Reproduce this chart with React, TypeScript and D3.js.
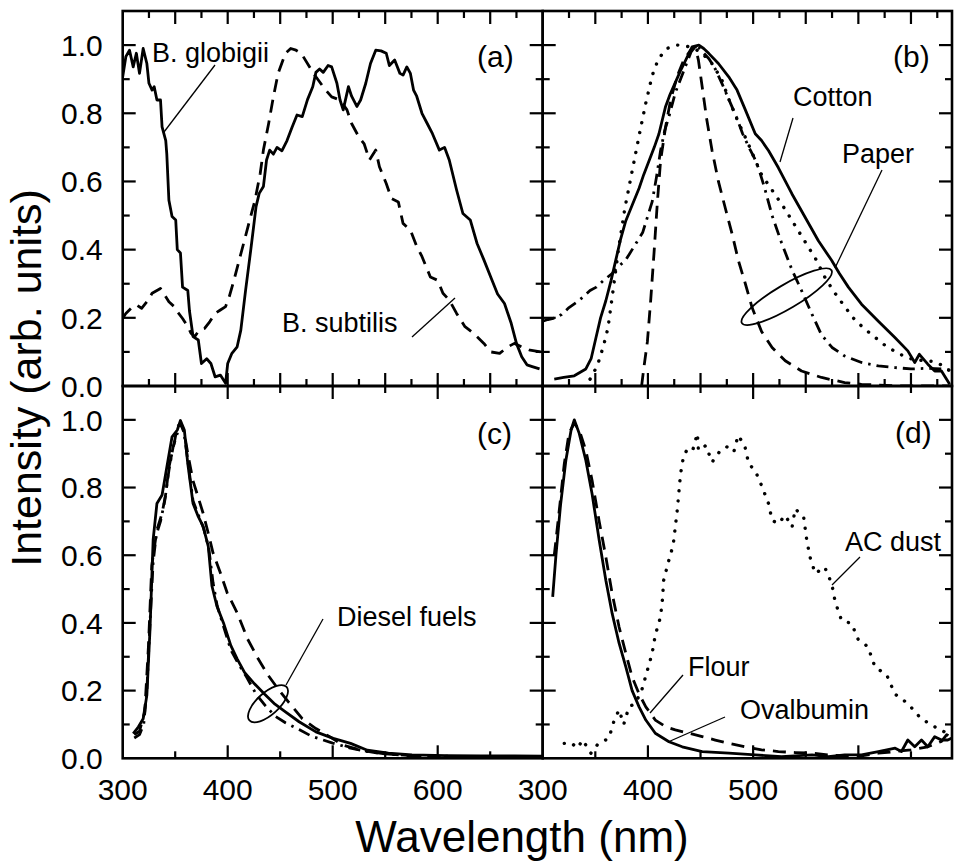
import React from "react";
import * as d3 from "d3";

type P = [number, number];

// ---------- tick labels ----------
const xTickLabels = [300, 400, 500, 600];
const yTickLabels = [0, 0.2, 0.4, 0.6, 0.8, 1.0];

// ---------- panel (a) ----------
const globigii: P[] = [[300,.907],[303,.966],[306.5,.985],[310,.936],[313,.976],[316,.917],[319.5,.99],[323,.946],[325,.888],[328,.868],[330,.878],[332.6,.839],[336,.839],[337.5,.76],[341,.72],[342,.68],[344,.545],[347,.497],[350.5,.487],[352,.40],[355,.39],[357,.29],[362,.28],[363.6,.22],[367,.145],[372,.135],[375,.066],[380,.08],[384,.066],[388,.027],[393,.032],[398,.008],[400,.066],[404,.096],[409,.115],[412.5,.164],[417,.28],[422,.40],[427,.526],[430,.565],[434,.585],[437,.663],[440,.692],[443.5,.68],[447,.70],[451.6,.69],[456.5,.72],[461.4,.76],[466,.795],[471,.79],[476,.84],[481,.878],[484,.92],[487.5,.93],[491,.92],[495.6,.94],[499,.936],[504,.888],[507,.839],[510,.81],[515,.878],[518,.85],[523,.82],[526.6,.839],[531.5,.888],[536,.946],[541,.985],[546,.983],[551,.976],[554,.94],[559,.956],[564,.917],[567,.912],[570.6,.936],[574,.917],[577,.868],[580,.85],[585,.80],[590,.77],[595,.74],[601.6,.692],[606.5,.70],[611,.663],[618,.575],[624,.506],[631,.487],[637.5,.418],[644,.37],[650.5,.32],[657,.27],[663.6,.242],[670,.184],[675,.125],[680,.086],[685,.062],[690,.057],[697,.05]];
const subtilis: P[] = [[300,.198],[303,.213],[308,.228],[313,.238],[318,.228],[323,.247],[328,.272],[332.6,.28],[336,.286],[339,.272],[344,.247],[349,.233],[352,.218],[357,.198],[362,.174],[365,.155],[368.5,.145],[373,.164],[378,.169],[383,.189],[388,.213],[393,.223],[398,.233],[401.5,.262],[406,.311],[411,.37],[416,.428],[421,.487],[426,.545],[431,.624],[434,.692],[439,.77],[443.5,.848],[448,.917],[455,.976],[460,.99],[465,.985],[470,.976],[478,.936],[484,.907],[492,.873],[499,.848],[507,.839],[513.6,.81],[518,.77],[525,.73],[530,.71],[535,.663],[541,.692],[544.5,.643],[551,.594],[556,.55],[562.5,.54],[567,.477],[574,.457],[580,.41],[585,.38],[593,.32],[600,.31],[605,.272],[611,.252],[618,.213],[626,.174],[634,.155],[644,.125],[650.5,.10],[659,.096],[667,.115],[673,.125],[680,.115],[688,.105],[698,.1]];

// ---------- panel (b) ----------
const cotton: P[] = [[311,.02],[320,.025],[330,.03],[341,.05],[346,.08],[350.5,.14],[355,.2],[360,.25],[365,.31],[369.5,.37],[374,.43],[379,.485],[385,.53],[391.6,.58],[396,.62],[401,.66],[406,.70],[410.5,.74],[416.8,.82],[421,.855],[426,.89],[431,.925],[435.8,.955],[442,.995],[448.4,1.0],[453,.99],[458,.975],[467,.946],[476.8,.907],[484.7,.868],[492.6,.81],[502,.74],[508,.72],[514.7,.69],[524,.64],[536.8,.564],[549.4,.495],[562,.426],[574.7,.368],[582,.33],[590.5,.29],[603,.24],[619,.19],[634.7,.142],[647,.103],[653.6,.069],[658,.093],[666,.064],[672.6,.044],[679,.044],[686.8,.005]];
const paperDash: P[] = [[394,0],[396,.05],[399.5,.13],[402.6,.25],[405.8,.39],[409,.54],[412,.66],[416.8,.76],[421.6,.84],[428,.91],[434,.956],[440.5,.985],[445,.995],[448,.956],[451.6,.877],[456,.78],[461,.69],[467,.60],[473.7,.52],[480,.446],[486,.368],[492.6,.30],[499,.23],[508,.16],[518,.113],[530.5,.074],[546,.044],[565,.025],[587,.01],[603,.005],[640,0],[689,0]];
const paperDashDot: P[] = [[300,.19],[305,.195],[312,.20],[318,.21],[325,.23],[332,.245],[338,.26],[345,.28],[351,.29],[358,.31],[366,.33],[372,.35],[379,.37],[387,.41],[395,.45],[400,.50],[404,.54],[408,.61],[412,.69],[416,.75],[420,.79],[426,.86],[431,.90],[436,.94],[441,.98],[446,1.0],[452,.98],[458,.96],[464,.93],[470,.89],[477,.84],[484,.79],[490,.74],[496,.70],[501,.67],[505,.64],[511,.58],[518,.50],[527,.42],[537,.34],[546,.28],[556,.21],[565,.15],[575,.113],[587,.088],[603,.069],[619,.059],[635,.054],[650,.05],[666,.052],[682,.05],[689,.045]];
const paperDot: P[] = [[345,.02],[352,.06],[358,.12],[362,.17],[366,.26],[372,.40],[378,.52],[385,.63],[392,.74],[398,.83],[404,.91],[410,.96],[418,.99],[428,1.0],[440,.995],[450,.98],[460,.95],[470,.90],[477,.84],[485,.78],[494,.72],[501,.67],[508,.62],[519,.57],[530,.52],[540,.47],[550,.42],[560,.37],[568,.32],[576,.28],[583,.25],[595,.20],[605,.17],[613,.15],[625,.12],[638,.095],[650,.08],[660,.075],[672,.072],[680,.06],[689,.04]];

// ---------- panel (c) ----------
const diesel1: P[] = [[310,.073],[315,.093],[319.5,.117],[323,.186],[326,.38],[329,.646],[332.6,.753],[337.5,.778],[342,.86],[347,.95],[352,.97],[355,.998],[358.7,.97],[362,.87],[367,.753],[372,.714],[376.6,.685],[381.5,.626],[385,.509],[389.7,.45],[396,.40],[403,.333],[409,.294],[416,.254],[425.5,.22],[435,.19],[445,.16],[455,.137],[468,.108],[484,.078],[500.5,.059],[517,.044],[533,.024],[553,.015],[575.5,.01],[608,.008],[641,.007],[673,.007],[700,.006]];
const diesel2: P[] = [[311,.07],[316,.08],[321,.137],[324.5,.33],[327.7,.57],[332.6,.675],[337.5,.724],[341,.78],[344,.86],[349,.93],[352,.98],[355,.99],[358.7,.96],[362,.90],[367,.82],[372,.77],[376.6,.724],[381.5,.665],[386,.607],[393,.548],[399.5,.489],[409,.43],[419,.352],[429,.294],[438.6,.245],[448,.205],[458,.166],[471,.117],[484,.088],[497,.064],[510,.039],[526.6,.024],[543,.015],[575.5,.007],[608,.004],[673,.002],[700,.002]];
const diesel3: P[] = [[311,.06],[316,.07],[320,.10],[323,.2],[326,.40],[329,.58],[332,.66],[336,.70],[340,.76],[344,.85],[348,.92],[352,.96],[355,.99],[358,.97],[362,.88],[367,.76],[372,.72],[377,.68],[382,.62],[386,.52],[390,.45],[396,.39],[403,.32],[410,.28],[418,.24],[427,.19],[436,.155],[445,.125],[455,.105],[468,.085],[480,.065],[500,.045],[517,.03],[533,.02],[553,.012],[575,.008],[610,.006],[650,.005],[700,.005]];

// ---------- panel (d) ----------
const ovalbumin: P[] = [[309.5,.477],[312.6,.60],[317,.75],[322,.88],[327,.97],[330,1.0],[334.7,.96],[341,.88],[347,.78],[353.7,.644],[360,.526],[366,.428],[372.6,.34],[379,.27],[385,.20],[391.6,.152],[398,.113],[407,.074],[420,.049],[432.6,.034],[451.6,.02],[477,.015],[502,.01],[527,.005],[556,.01],[571.5,.005],[587,.01],[603,.01],[619,.02],[635,.03],[641,.02],[647,.054],[653.6,.034],[660,.054],[666,.034],[672.6,.064],[679,.054],[685,.054],[689,.06]];
const flour: P[] = [[311,.60],[316,.74],[320.5,.87],[325,.96],[330,.99],[334.7,.97],[341,.91],[347,.82],[353.7,.70],[360,.595],[366,.487],[372.6,.388],[379,.31],[385,.24],[391.6,.19],[398,.152],[407,.113],[417,.093],[426,.084],[439,.074],[451.6,.064],[464,.054],[477,.044],[492.6,.034],[508,.025],[524,.02],[540,.017],[556,.015],[571.5,.01],[587,.007],[603,.007],[619,.015],[635,.02],[650,.025],[666,.034],[679,.05],[684,.07],[689,.06]];
const acDust: P[] = [[320.5,.044],[327,.046],[333,.03],[338,.054],[345.8,.015],[352,.04],[363,.06],[368,.113],[372.6,.143],[377,.10],[382,.152],[388,.162],[394,.2],[399.5,.26],[404,.31],[407,.364],[412,.418],[413.7,.467],[415,.526],[419,.575],[424,.63],[426,.683],[428,.737],[431,.84],[434,.895],[439,.92],[443,.915],[447,.96],[448,.91],[455,.924],[461,.875],[469,.91],[475,.92],[481.6,.905],[485.7,.954],[492,.924],[495.8,.87],[502,.85],[508,.806],[514.7,.752],[518,.703],[524,.693],[530.5,.718],[537,.683],[540,.737],[548,.713],[551,.644],[554,.595],[559,.546],[568,.565],[574.7,.516],[578,.462],[584,.408],[593.6,.398],[600,.35],[609,.33],[615.8,.27],[627,.246],[634.7,.19],[647,.162],[658,.123],[669,.098],[679,.084],[688,.064]];

const FONT = "'Liberation Sans', Arial, Helvetica, sans-serif";

const dashStyles: Record<string, string | undefined> = {
  solid: undefined,
  dash: "13,8",
  dot: "0.1,10",
  dashdot: "12,6,2.5,6",
};

type Series = { data: P[]; style: string };

export default function App() {
  const xL = d3.scaleLinear().domain([300, 700]).range([122.7, 542.7]);
  const xR = d3.scaleLinear().domain([300, 689]).range([542.7, 952]);
  const yT = d3.scaleLinear().domain([0, 1.1]).range([386, 11]);
  const yB = d3.scaleLinear().domain([0, 1.1]).range([758.3, 386]);

  const panels = [
    { id: "a", x: xL, y: yT, top: true, left: true, series: [ { data: globigii, style: "solid" }, { data: subtilis, style: "dash" } ] as Series[] },
    { id: "b", x: xR, y: yT, top: true, left: false, series: [ { data: paperDash, style: "dash" }, { data: paperDashDot, style: "dashdot" }, { data: paperDot, style: "dot" }, { data: cotton, style: "solid" } ] as Series[] },
    { id: "c", x: xL, y: yB, top: false, left: true, series: [ { data: diesel2, style: "dash" }, { data: diesel3, style: "dashdot" }, { data: diesel1, style: "solid" } ] as Series[] },
    { id: "d", x: xR, y: yB, top: false, left: false, series: [ { data: acDust, style: "dot" }, { data: flour, style: "dash" }, { data: ovalbumin, style: "solid" } ] as Series[] },
  ];

  const MAJ = 13, MIN = 7;

  return (
    <svg width={955} height={864} style={{ position: "absolute", left: 0, top: 0, background: "#fff" }} fontFamily={FONT}>
      <defs>
        {panels.map((p) => {
          const [x0, x1] = p.x.range();
          const [y0, y1] = p.y.range();
          return (
            <clipPath id={"clip-" + p.id} key={p.id}>
              <rect x={x0} y={y1} width={x1 - x0} height={y0 - y1} />
            </clipPath>
          );
        })}
      </defs>
      {panels.map((p) => {
        const [x0, x1] = p.x.range();
        const [yb, yt] = p.y.range();
        const dom = p.x.domain();
        const line = d3.line<P>().x((d) => p.x(d[0])).y((d) => p.y(d[1]));
        const xMajor = p.top ? d3.range(350, dom[1] + 0.01, 50) : d3.range(400, dom[1] + 0.01, 100);
        const xMinor = p.top ? d3.range(325, dom[1] + 0.01, 50) : d3.range(350, dom[1] + 0.01, 100);
        const yMajor = d3.range(0.2, 1.01, 0.2);
        const yMinor = d3.range(0.1, 1.01, 0.2);
        const ticks: JSX.Element[] = [];
        xMajor.filter((v) => v < dom[1] - 1).forEach((v, i) => {
          ticks.push(<line key={"xb" + i} x1={p.x(v)} x2={p.x(v)} y1={yb} y2={yb - MAJ} />);
          ticks.push(<line key={"xt" + i} x1={p.x(v)} x2={p.x(v)} y1={yt} y2={yt + MAJ} />);
        });
        xMinor.filter((v) => v < dom[1] - 1).forEach((v, i) => {
          ticks.push(<line key={"xbm" + i} x1={p.x(v)} x2={p.x(v)} y1={yb} y2={yb - MIN} />);
          ticks.push(<line key={"xtm" + i} x1={p.x(v)} x2={p.x(v)} y1={yt} y2={yt + MIN} />);
        });
        yMajor.forEach((v, i) => {
          ticks.push(<line key={"yl" + i} x1={x0} x2={x0 + MAJ} y1={p.y(v)} y2={p.y(v)} />);
          ticks.push(<line key={"yr" + i} x1={x1} x2={x1 - MAJ} y1={p.y(v)} y2={p.y(v)} />);
        });
        yMinor.forEach((v, i) => {
          ticks.push(<line key={"ylm" + i} x1={x0} x2={x0 + MIN} y1={p.y(v)} y2={p.y(v)} />);
          ticks.push(<line key={"yrm" + i} x1={x1} x2={x1 - MIN} y1={p.y(v)} y2={p.y(v)} />);
        });
        return (
          <g key={p.id}>
            <g clipPath={`url(#clip-${p.id})`}>
              {p.series.map((s, i) => (
                <path
                  key={i}
                  d={line(s.data) || ""}
                  fill="none"
                  stroke="#000"
                  strokeWidth={s.style === "dot" ? 3.4 : 2.8}
                  strokeDasharray={dashStyles[s.style]}
                  strokeLinecap={s.style === "dot" ? "round" : "butt"}
                  strokeLinejoin="round"
                />
              ))}
            </g>
            <g stroke="#000" strokeWidth={2.2}>{ticks}</g>
            <rect x={x0} y={yt} width={x1 - x0} height={yb - yt} fill="none" stroke="#000" strokeWidth={2.6} />
            {p.left &&
              yTickLabels.map((v) => (
                <text key={"yl" + v} x={x0 - 20} y={p.y(v)} dy="0.36em" textAnchor="end" fontSize={30}>
                  {v.toFixed(1)}
                </text>
              ))}
            {!p.top &&
              xTickLabels.map((v) => (
                <text key={"xl" + v} x={p.x(v)} y={800} textAnchor="middle" fontSize={30}>
                  {v}
                </text>
              ))}
          </g>
        );
      })}

      {/* panel tags */}
      <g fontSize={30}>
        <text x={477} y={67}>(a)</text>
        <text x={893} y={67}>(b)</text>
        <text x={477} y={444}>(c)</text>
        <text x={895} y={443}>(d)</text>
      </g>

      {/* annotations */}
      <g fontSize={27}>
        <text x={152} y={62}>B. globigii</text>
        <text x={282} y={332}>B. subtilis</text>
        <text x={793} y={106}>Cotton</text>
        <text x={842} y={163}>Paper</text>
        <text x={337} y={626}>Diesel fuels</text>
        <text x={845} y={551}>AC dust</text>
        <text x={688} y={676}>Flour</text>
        <text x={740} y={719}>Ovalbumin</text>
      </g>
      <g stroke="#000" strokeWidth={1.3} fill="none">
        <line x1={215} y1={65} x2={164} y2={132} />
        <line x1={412} y1={337} x2={455} y2={298} />
        <line x1={793} y1={118} x2={780} y2={162} />
        <line x1={882} y1={170} x2={835} y2={268} />
        <ellipse cx={786.7} cy={296.7} rx={52} ry={12} transform="rotate(-30.5 786.7 296.7)" strokeWidth={1.8} />
        <line x1={323} y1={619} x2={286} y2={685} />
        <ellipse cx={268} cy={703.7} rx={25} ry={11} transform="rotate(-42 268 703.7)" strokeWidth={1.8} />
        <line x1={860} y1={557} x2={832} y2={585} />
        <line x1={683} y1={675} x2={650} y2={713} />
        <line x1={725} y1={717} x2={668} y2={742} />
      </g>

      {/* axis titles */}
      <text x={522} y={852} textAnchor="middle" fontSize={44}>Wavelength (nm)</text>
      <text transform="translate(41,378) rotate(-90)" textAnchor="middle" fontSize={43}>Intensity (arb. units)</text>
    </svg>
  );
}
